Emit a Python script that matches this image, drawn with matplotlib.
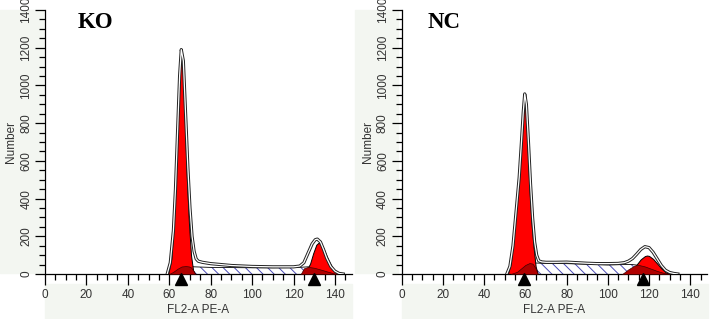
import numpy as np
import matplotlib
matplotlib.use("Agg")
import matplotlib.pyplot as plt
from matplotlib.patches import Rectangle
from matplotlib.ticker import MultipleLocator

# ---- KO panel values ----
ko_g1_x = [59.5, 61, 62, 63, 64, 65, 65.7, 66.5, 67.5, 68.5, 69.5, 70.5, 71.5, 72.5]
ko_g1_y = [0, 80, 250, 480, 760, 1050, 1180, 1100, 820, 500, 270, 100, 20, 0]
ko_s_x = [61, 63, 65, 67, 69, 72, 80, 90, 100, 110, 120, 124, 127, 130, 133, 136, 139, 141]
ko_s_y = [0, 15, 30, 40, 42, 38, 35, 34, 33, 33, 34, 36, 38, 33, 24, 14, 5, 0]
ko_g2_x = [124, 126, 128, 129.5, 131, 132, 133, 134.5, 136, 137.5, 139, 140.5, 142]
ko_g2_y = [0, 15, 55, 110, 155, 165, 160, 135, 95, 60, 30, 10, 0]
ko_d1_x = [60, 62, 64, 66, 68, 69.5, 70.5, 71.5, 72.5]
ko_d1_y = [0, 12, 28, 40, 42, 40, 35, 20, 0]
ko_d2_x = [123.5, 125, 127, 130, 133, 136, 139, 141]
ko_d2_y = [0, 30, 38, 33, 24, 14, 5, 0]
ko_data_x = [59, 60.5, 62, 63, 64, 65, 65.8, 66.8, 68, 69, 70, 71, 72, 73, 74, 76, 80,
             85, 90, 100, 110, 120, 123, 125, 127, 129, 130.5, 131.5, 133, 134.5,
             136, 138, 140, 142, 144]
ko_data_y = [0, 60, 230, 450, 750, 1050, 1190, 1130, 820, 560, 350, 200, 120, 80, 68,
             62, 55, 50, 45, 40, 38, 38, 42, 60, 110, 160, 182, 185, 170, 130,
             85, 40, 15, 3, 0]
ko_marks = [65.5, 129.8]

# ---- NC panel values ----
nc_g1_x = [51.5, 53, 54, 55, 56, 57, 58, 59, 59.6, 60.3, 61, 62, 63, 64, 65, 66]
nc_g1_y = [0, 60, 180, 290, 400, 520, 680, 850, 930, 880, 700, 450, 270, 140, 40, 0]
nc_s_x = [54, 57, 60, 63, 66, 70, 80, 90, 100, 108, 112, 115, 118, 121, 124, 127, 130]
nc_s_y = [0, 20, 45, 58, 58, 56, 55, 52, 48, 50, 50, 46, 38, 27, 16, 6, 0]
nc_g2_x = [108, 110, 112, 114, 116, 118, 119, 120, 122, 124, 126, 128, 130]
nc_g2_y = [0, 8, 25, 50, 78, 95, 98, 96, 80, 55, 30, 10, 0]
nc_d1_x = [53, 56, 58, 60, 62, 63.5, 65, 66]
nc_d1_y = [0, 12, 30, 48, 58, 55, 30, 0]
nc_d2_x = [107, 110, 113, 115, 118, 121, 124, 127, 130]
nc_d2_y = [0, 25, 45, 48, 40, 28, 16, 6, 0]
nc_data_x = [51, 52.5, 54, 55, 56, 57, 58, 59, 59.7, 60.5, 61.5, 62.5, 63.5, 64.5, 65.5,
             66.5, 68, 70, 75, 80, 85, 90, 95, 100, 105, 108, 110, 112, 114, 116,
             118, 120, 122, 124, 126, 128, 130, 132, 134]
nc_data_y = [0, 40, 150, 270, 390, 510, 680, 860, 955, 900, 700, 480, 300, 170, 100,
             70, 64, 62, 62, 63, 60, 57, 55, 55, 56, 60, 68, 82, 105, 130,
             145, 140, 115, 80, 45, 20, 8, 3, 0]
nc_marks = [59.5, 117]

x_label = "FL2-A PE-A"
y_label = "Number"

W, H = 710, 319
fig = plt.figure(figsize=(W / 100, H / 100), dpi=100)
fig.patch.set_facecolor("white")

strip = "#f3f6f1"
# light background strips, like the original software
for (x0, y0, w, h) in [(0, 10, 43, 263), (45, 284, 307, 35),
                       (355, 10, 43, 263), (402, 284, 306, 35)]:
    fig.patches.append(Rectangle((x0 / W, 1 - (y0 + h) / H), w / W, h / H,
                                 transform=fig.transFigure, color=strip, zorder=-5))

plt.rcParams["hatch.linewidth"] = 0.7


def panel(rect, title, title_x, g1x, g1y, sx, sy, g2x, g2y, d1x, d1y, d2x, d2y,
          dx, dy, marks):
    ax = fig.add_axes(rect)
    ax.set_zorder(1)
    ax.set_xlim(0, 148)
    ax.set_ylim(0, 1400)
    ax.patch.set_alpha(0)

    # S phase: hatched
    ax.fill_between(sx, 0, sy, facecolor="white", edgecolor="#4a4ab4",
                    hatch="\\\\\\", linewidth=0, zorder=1)
    ax.plot(sx, sy, color="black", lw=0.6, zorder=1.5)
    # G1 and G2 peaks
    ax.fill_between(g1x, 0, g1y, facecolor="#ff0000", edgecolor="black", lw=0.7, zorder=2)
    ax.fill_between(g2x, 0, g2y, facecolor="#ff0000", edgecolor="black", lw=0.7, zorder=2)
    # S phase where it lies under the peaks
    ax.fill_between(d1x, 0, d1y, facecolor="#b00000", edgecolor="#400000", lw=0.5, zorder=3)
    ax.fill_between(d2x, 0, d2y, facecolor="#b00000", edgecolor="#400000", lw=0.5, zorder=3)
    # measured histogram, double outline
    ax.plot(dx, dy, color="#222222", lw=2.3, zorder=4)
    ax.plot(dx, dy, color="white", lw=0.9, zorder=4.5)

    ax.plot(marks, [-28] * len(marks), marker="^", ls="none", color="black",
            markersize=8, clip_on=False, zorder=6)

    for s in ["top", "right"]:
        ax.spines[s].set_visible(False)
    for s in ["left", "bottom"]:
        ax.spines[s].set_linewidth(0.9)

    ax.xaxis.set_major_locator(MultipleLocator(20))
    ax.xaxis.set_minor_locator(MultipleLocator(5))
    ax.yaxis.set_major_locator(MultipleLocator(200))
    ax.yaxis.set_minor_locator(MultipleLocator(50))
    ax.tick_params(axis="x", which="major", length=8, width=0.9, labelsize=8.5, pad=3)
    ax.tick_params(axis="x", which="minor", length=4.3, width=0.9)
    ax.tick_params(axis="y", which="major", length=7.2, width=0.9, labelsize=8.5, pad=2)
    ax.tick_params(axis="y", which="minor", length=4.3, width=0.9)
    for lab in ax.get_yticklabels():
        lab.set_rotation(90)
        lab.set_va("center")
    for lab in ax.get_xticklabels() + ax.get_yticklabels():
        lab.set_family("Liberation Sans")
        lab.set_color("#333333")

    ax.set_xlabel(x_label, fontsize=8.5, family="Liberation Sans", labelpad=2, color="#333333")
    ax.set_ylabel(y_label, fontsize=8.5, family="Liberation Sans", labelpad=2, color="#333333")

    fig.text(title_x / W, 1 - 12 / H, title, family="Liberation Serif",
             fontweight="bold", fontsize=16.5, va="top", ha="left")
    return ax


panel([45 / W, 45 / H, 306.5 / W, 264 / H], "KO", 78,
      ko_g1_x, ko_g1_y, ko_s_x, ko_s_y, ko_g2_x, ko_g2_y,
      ko_d1_x, ko_d1_y, ko_d2_x, ko_d2_y, ko_data_x, ko_data_y, ko_marks)
panel([401.7 / W, 45 / H, 305 / W, 264 / H], "NC", 428,
      nc_g1_x, nc_g1_y, nc_s_x, nc_s_y, nc_g2_x, nc_g2_y,
      nc_d1_x, nc_d1_y, nc_d2_x, nc_d2_y, nc_data_x, nc_data_y, nc_marks)

fig.savefig("out.png", dpi=100)
